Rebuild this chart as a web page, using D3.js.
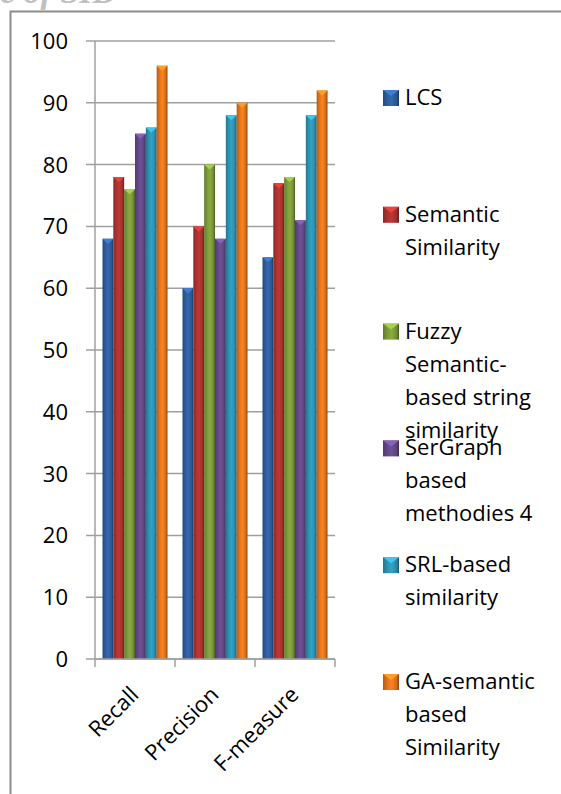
<!DOCTYPE html>
<html>
  <head>
    <meta charset="utf-8">
    <title>SID comparison</title>
    <script src="https://d3js.org/d3.v7.min.js" charset="utf-8"></script>
    <style>
      html, body { margin: 0; padding: 0; background: #fff; }
      svg { display: block; font-family: "Open Sans", sans-serif; }
    </style>
  </head>
  <body>
    <div id="box"></div>
    <script>
      // data
      var categories = ["Recall", "Precision", "F-measure"];
      var series = ["LCS", "Semantic Similarity", "Fuzzy Semantic-based string similarity",
                    "SerGraph based methodies 4", "SRL-based similarity", "GA-semantic based Similarity"];
      var legendLines = [["LCS"], ["Semantic", "Similarity"], ["Fuzzy", "Semantic-", "based string", "similarity"],
                         ["SerGraph", "based", "methodies 4"], ["SRL-based", "similarity"], ["GA-semantic", "based", "Similarity"]];
      var recall    = [68, 78, 76, 85, 86, 96];
      var precision = [60, 70, 80, 68, 88, 90];
      var fmeasure  = [65, 77, 78, 71, 88, 92];
      var yTicks = [0, 10, 20, 30, 40, 50, 60, 70, 80, 90, 100];
      var colors = ["#2f5f9e", "#ae3330", "#7d9c3a", "#654a8a", "#2e95b4", "#e6771c"];

      var values = [recall, precision, fmeasure];

      var width = 561, height = 794;
      var plotLeft = 95, plotRight = 335, plotTop = 41, plotBottom = 659;

      var svg = d3.select("#box").append("svg")
          .attr("width", width).attr("height", height);

      svg.append("rect").attr("width", width).attr("height", height).attr("fill", "#fff");

      // cut-off heading above the frame
      svg.append("text")
          .attr("x", 0).attr("y", 3)
          .style("font-family", "'Liberation Serif', serif")
          .style("font-style", "italic")
          .style("font-weight", "bold")
          .style("font-size", "34px")
          .attr("fill", "#c0c0c0")
          .text("e of SID");

      // outer frame
      svg.append("rect")
          .attr("x", 10.5).attr("y", 11.5)
          .attr("width", 600).attr("height", 900)
          .attr("fill", "none").attr("stroke", "#8c8c8c").attr("stroke-width", 2);

      var y = d3.scaleLinear().domain([0, 100]).range([plotBottom, plotTop]);
      var x0 = d3.scaleBand().domain(categories).range([plotLeft, plotRight]);
      var x1 = d3.scaleBand().domain(series).range([7.5, x0.bandwidth() - 7.5]);

      // gridlines + y ticks
      svg.append("g")
          .selectAll("line").data(yTicks).enter().append("line")
          .attr("x1", plotLeft - 9).attr("x2", plotRight)
          .attr("y1", function(d) { return y(d); })
          .attr("y2", function(d) { return y(d); })
          .attr("stroke", "#a0a0a0").attr("stroke-width", 1.5);

      svg.append("g")
          .selectAll("text").data(yTicks).enter().append("text")
          .attr("x", 68).attr("y", function(d) { return y(d) + 8; })
          .attr("text-anchor", "end")
          .style("font-size", "22px")
          .attr("fill", "#000")
          .text(function(d) { return d; });

      // gradients for bar shading
      var defs = svg.append("defs");
      colors.forEach(function(c, i) {
        var g = defs.append("linearGradient").attr("id", "grad" + i)
            .attr("x1", "0%").attr("x2", "100%").attr("y1", "0%").attr("y2", "0%");
        var base = d3.color(c);
        g.append("stop").attr("offset", "0%").attr("stop-color", base.darker(0.7));
        g.append("stop").attr("offset", "30%").attr("stop-color", base);
        g.append("stop").attr("offset", "55%").attr("stop-color", base.brighter(0.25));
        g.append("stop").attr("offset", "85%").attr("stop-color", base.darker(0.3));
        g.append("stop").attr("offset", "100%").attr("stop-color", base.darker(1.6));
      });

      var groups = svg.append("g").selectAll("g").data(categories).enter().append("g")
          .attr("transform", function(d) { return "translate(" + x0(d) + ",0)"; });

      var bars = groups.selectAll("g").data(function(d, ci) {
            return series.map(function(s, si) { return {s: s, i: si, v: values[ci][si]}; });
          }).enter().append("g");

      bars.append("rect")
          .attr("x", function(d) { return x1(d.s); })
          .attr("y", function(d) { return y(d.v); })
          .attr("width", x1.bandwidth())
          .attr("height", function(d) { return plotBottom - y(d.v); })
          .attr("fill", function(d) { return "url(#grad" + d.i + ")"; });

      // little bevel cap on top
      bars.append("path")
          .attr("d", function(d) {
            var bx = x1(d.s), bw = x1.bandwidth(), by = y(d.v);
            return "M" + bx + "," + by + "L" + (bx + bw) + "," + by +
                   "L" + (bx + bw - 2) + "," + (by + 2) + "L" + (bx + bw / 2) + "," + (by + 5) +
                   "L" + (bx + 2) + "," + (by + 2) + "Z";
          })
          .attr("fill", function(d) { return d3.color(colors[d.i]).brighter(0.8); });

      // axes
      svg.append("line")
          .attr("x1", plotLeft).attr("x2", plotLeft).attr("y1", plotTop).attr("y2", plotBottom + 8)
          .attr("stroke", "#a0a0a0").attr("stroke-width", 1.5);
      svg.append("line")
          .attr("x1", plotLeft).attr("x2", plotRight).attr("y1", plotBottom).attr("y2", plotBottom)
          .attr("stroke", "#a0a0a0").attr("stroke-width", 1.5);
      svg.append("g").selectAll("line").data(categories).enter().append("line")
          .attr("x1", function(d) { return x0(d) + x0.bandwidth(); })
          .attr("x2", function(d) { return x0(d) + x0.bandwidth(); })
          .attr("y1", plotBottom).attr("y2", plotBottom + 8)
          .attr("stroke", "#a0a0a0").attr("stroke-width", 1.5);

      // category labels
      svg.append("g").selectAll("text").data(categories).enter().append("text")
          .attr("transform", function(d) {
            return "translate(" + (x0(d) + x0.bandwidth() / 2 + 5) + "," + (plotBottom + 37) + ") rotate(-45)";
          })
          .attr("text-anchor", "end")
          .style("font-size", "22px")
          .text(function(d) { return d; });

      // legend
      var legend = svg.append("g").selectAll("g").data(series).enter().append("g")
          .attr("transform", function(d, i) { return "translate(383," + (90 + i * 116.8) + ")"; });

      legend.append("rect")
          .attr("width", 16).attr("height", 16)
          .attr("fill", function(d, i) { return "url(#grad" + i + ")"; });
      legend.append("path")
          .attr("d", "M0,0L16,0L8,6Z")
          .attr("fill", function(d, i) { return d3.color(colors[i]).brighter(0.8); });

      legend.each(function(d, i) {
        d3.select(this).selectAll("text").data(legendLines[i]).enter().append("text")
            .attr("x", 22)
            .attr("y", function(t, j) { return 15 + j * 33; })
            .style("font-size", "22px")
            .text(function(t) { return t; });
      });
    </script>
  </body>
</html>
